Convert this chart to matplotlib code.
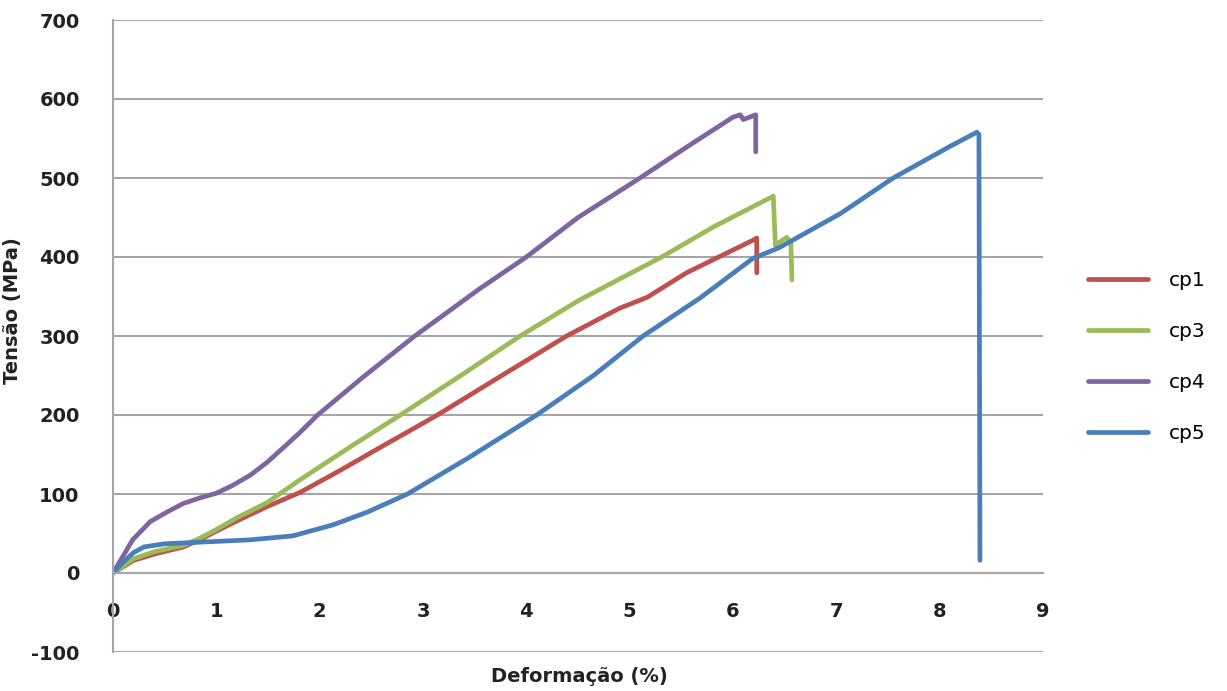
import matplotlib
matplotlib.use("Agg")
import matplotlib.pyplot as plt

plt.rcParams["axes.unicode_minus"] = False

# stress-strain curves, strain in %, stress in MPa
cp1_x = [0, 0.1, 0.2, 0.4, 0.68, 0.84, 1.0, 1.2, 1.49, 1.81, 2.2, 2.6, 3.14, 3.75,
         4.39, 4.9, 5.17, 5.55, 5.94, 6.19, 6.23, 6.23]
cp1_y = [0, 8, 16, 24, 33, 42, 53, 66, 84, 102, 130, 160, 200, 249,
         300, 335, 349, 380, 405, 421, 424, 380]

cp3_x = [0, 0.1, 0.2, 0.4, 0.68, 0.84, 1.0, 1.2, 1.49, 1.81, 2.3, 2.78, 3.39, 3.94,
         4.52, 5.31, 5.81, 6.39, 6.41, 6.52, 6.56, 6.57]
cp3_y = [0, 9, 18, 27, 35, 44, 55, 70, 89, 118, 160, 200, 252, 300,
         346, 400, 438, 477, 415, 425, 418, 371]

cp4_x = [0, 0.1, 0.19, 0.36, 0.52, 0.68, 0.84, 1.0, 1.16, 1.33, 1.49, 1.66, 1.81, 1.98,
         2.42, 2.92, 3.55, 4.0, 4.5, 5.1, 5.55, 6.0, 6.07, 6.1, 6.22, 6.22]
cp4_y = [0, 22, 42, 65, 77, 88, 95, 101, 111, 124, 140, 160, 178, 200,
         248, 300, 360, 400, 450, 500, 539, 577, 580, 574, 580, 533]

cp5_x = [0, 0.1, 0.2, 0.3, 0.5, 0.84, 1.33, 1.74, 2.13, 2.46, 2.85, 3.43, 4.10, 4.65,
         5.13, 5.68, 6.19, 6.45, 7.04, 7.55, 8.1, 8.36, 8.38, 8.39]
cp5_y = [0, 14, 26, 33, 37, 39, 42, 47, 61, 77, 100, 145, 200, 250,
         300, 348, 398, 412, 455, 500, 540, 558, 555, 16]

series = [("cp1", cp1_x, cp1_y, "#C0504D"),
          ("cp3", cp3_x, cp3_y, "#9BBB59"),
          ("cp4", cp4_x, cp4_y, "#8064A2"),
          ("cp5", cp5_x, cp5_y, "#4A7EBB")]

x_ticks = list(range(0, 10))
y_ticks = list(range(-100, 701, 100))

W, H = 1227, 691
fig = plt.figure(figsize=(W / 100, H / 100), dpi=100)
ax = fig.add_axes([113 / W, 1 - 652 / H, 930 / W, 632 / H])

for name, xs, ys, col in series:
    ax.plot(xs, ys, color=col, lw=3.4, label=name, solid_capstyle="round",
            solid_joinstyle="round")

grid_c = "#A6A6A6"
ax.set_xlim(0, 9)
ax.set_ylim(-100, 700)
ax.set_xticks(x_ticks)
ax.set_yticks(y_ticks)
ax.yaxis.grid(True, color=grid_c, lw=1.5)
ax.set_axisbelow(True)
for s in ["top", "right"]:
    ax.spines[s].set_visible(False)
ax.spines["bottom"].set_position(("data", 0))
ax.spines["bottom"].set_color(grid_c)
ax.spines["bottom"].set_linewidth(1.5)
ax.spines["left"].set_color(grid_c)
ax.spines["left"].set_linewidth(1.5)
ax.tick_params(length=0)
ax.tick_params(axis="x", pad=21, labelsize=14, labelcolor="#222222")
ax.tick_params(axis="y", pad=24, labelsize=14, labelcolor="#222222")
for lab in ax.get_xticklabels() + ax.get_yticklabels():
    lab.set_fontweight("bold")

ax.set_ylabel("Tensão (MPa)", fontsize=14, fontweight="bold", color="#222222")
ax.yaxis.set_label_coords(-0.098, 0.54)
fig.text(579 / W, 1 - 676 / H, "Deformação (%)", fontsize=14, fontweight="bold",
         color="#222222", ha="center", va="center")

ax.legend(loc="center left", bbox_to_anchor=(1088 / W, 1 - 357 / H),
          bbox_transform=fig.transFigure, frameon=False, fontsize=14.5,
          handlelength=3.0, handletextpad=1.0, labelspacing=1.6,
          borderpad=0, borderaxespad=0)

fig.savefig("out.png", dpi=100, facecolor="white")
